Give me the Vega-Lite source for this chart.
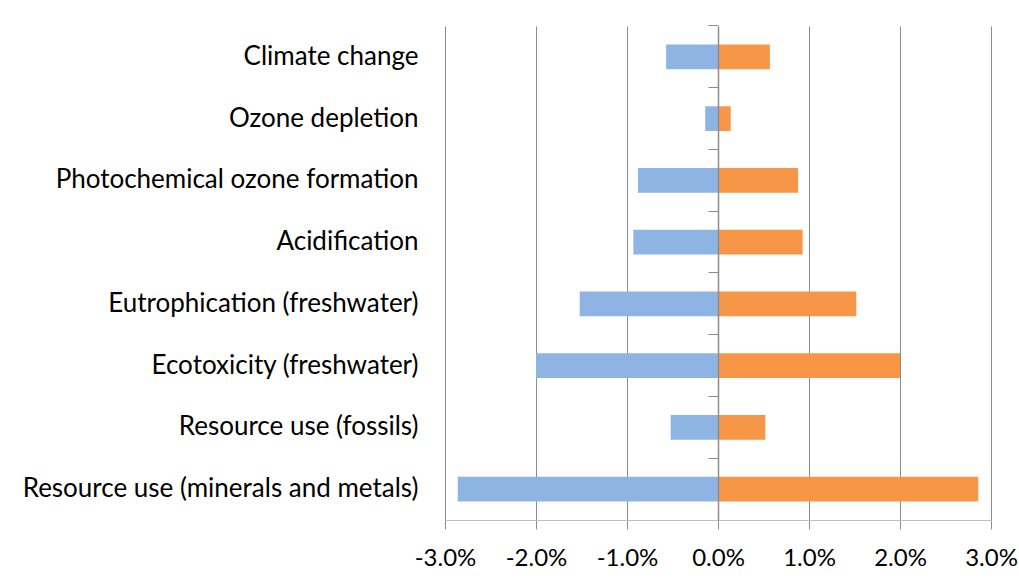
{
  "$schema": "https://vega.github.io/schema/vega-lite/v6.json",
  "width": 546,
  "height": 494,
  "autosize": {"type": "none"},
  "padding": {"left": 445, "top": 26, "right": 28, "bottom": 59},
  "background": "white",
  "config": {
    "view": {"stroke": null},
    "font": "Lato"
  },
  "data": {
    "values": [
      {"category": "Climate change", "side": "low", "value": -0.0057},
      {"category": "Climate change", "side": "high", "value": 0.0057},
      {"category": "Ozone depletion", "side": "low", "value": -0.0014},
      {"category": "Ozone depletion", "side": "high", "value": 0.0014},
      {"category": "Photochemical ozone formation", "side": "low", "value": -0.0088},
      {"category": "Photochemical ozone formation", "side": "high", "value": 0.0088},
      {"category": "Acidification", "side": "low", "value": -0.0093},
      {"category": "Acidification", "side": "high", "value": 0.0093},
      {"category": "Eutrophication (freshwater)", "side": "low", "value": -0.0152},
      {"category": "Eutrophication (freshwater)", "side": "high", "value": 0.0152},
      {"category": "Ecotoxicity (freshwater)", "side": "low", "value": -0.02},
      {"category": "Ecotoxicity (freshwater)", "side": "high", "value": 0.02},
      {"category": "Resource use (fossils)", "side": "low", "value": -0.0052},
      {"category": "Resource use (fossils)", "side": "high", "value": 0.0052},
      {"category": "Resource use (minerals and metals)", "side": "low", "value": -0.0286},
      {"category": "Resource use (minerals and metals)", "side": "high", "value": 0.0286}
    ]
  },
  "layer": [
    {
      "mark": {"type": "bar"},
      "encoding": {
        "y": {
          "field": "category",
          "type": "nominal",
          "sort": null,
          "scale": {"paddingInner": 0.6, "paddingOuter": 0.3},
          "axis": {
            "title": null,
            "ticks": false,
            "domain": false,
            "grid": false,
            "labelPadding": 27,
            "labelFontSize": 26,
            "labelColor": "#000000",
            "labelLimit": 600
          }
        },
        "x": {
          "field": "value",
          "type": "quantitative",
          "stack": null,
          "scale": {"domain": [-0.03, 0.03], "nice": false},
          "axis": {
            "title": null,
            "values": [-0.03, -0.02, -0.01, 0, 0.01, 0.02, 0.03],
            "format": ".1%",
            "labelExpr": "replace(datum.label, '\u2212', '-')",
            "grid": true,
            "gridColor": "#8c8c8c",
            "gridWidth": 1,
            "domainColor": "#bfbfbf",
            "domainWidth": 1,
            "tickColor": "#8c8c8c",
            "tickSize": 9,
            "labelPadding": 17,
            "labelFontSize": 24,
            "labelColor": "#000000",
            "labelFlush": false
          }
        },
        "color": {
          "field": "side",
          "type": "nominal",
          "scale": {"domain": ["low", "high"], "range": ["#8EB4E3", "#F79646"]},
          "legend": null
        }
      }
    },
    {
      "mark": {"type": "bar", "opacity": 0},
      "encoding": {
        "y": {
          "field": "category",
          "type": "nominal",
          "sort": null,
          "axis": {
            "orient": "left",
            "offset": -273,
            "title": null,
            "labels": false,
            "ticks": true,
            "bandPosition": -0.75,
            "tickSize": 10,
            "tickColor": "#8c8c8c",
            "domain": true,
            "domainColor": "#8c8c8c",
            "domainWidth": 1.5,
            "grid": false,
            "zindex": 1
          }
        },
        "x": {"field": "value", "type": "quantitative", "stack": null}
      }
    }
  ],
  "resolve": {"axis": {"y": "independent"}}
}
